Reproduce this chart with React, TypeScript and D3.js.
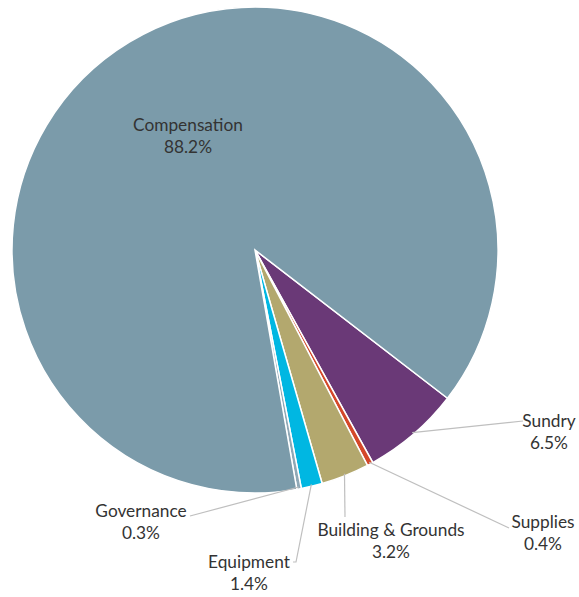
import React from "react";
import * as d3 from "d3";

const categories = ["Sundry", "Supplies", "Building & Grounds", "Equipment", "Governance", "Compensation"];
const values = [6.5, 0.4, 3.2, 1.4, 0.3, 88.2];
const valueLabels = ["6.5%", "0.4%", "3.2%", "1.4%", "0.3%", "88.2%"];
const colors = ["#6A3977", "#D4482A", "#B3A86E", "#00B7E2", "#8EA8B6", "#7B9BAA"];

// label layout (text center x, first baseline y, leader end points)
const labelLayout = [
  { x: 549, y: 427, leader: [[523, 421]] },
  { x: 543, y: 528, leader: [[509, 528]] },
  { x: 391, y: 536, leader: [[345, 517]] },
  { x: 249, y: 568, leader: [[296, 562], [293, 562]] },
  { x: 141, y: 517, leader: [[190, 516]] },
  { x: 188, y: 131, leader: [] },
];

const W = 579;
const H = 597;
const cx = 255;
const cy = 250;
const R = 243;
const startDeg = 127.6;

export default function App() {
  const pie = d3
    .pie<number>()
    .sort(null)
    .value((d) => d)
    .startAngle((startDeg * Math.PI) / 180)
    .endAngle(((startDeg + 360) * Math.PI) / 180);
  const arcs = pie(values);
  const arc = d3.arc<d3.PieArcDatum<number>>().innerRadius(0).outerRadius(R);
  const edge = d3.arc<d3.PieArcDatum<number>>().innerRadius(R - 2).outerRadius(R - 2);

  return (
    <div style={{ position: "absolute", left: 0, top: 0 }}>
      <svg width={W} height={H} style={{ display: "block" }} fontFamily="Lato, 'Open Sans', sans-serif">
        <rect width={W} height={H} fill="#ffffff" />
        <g transform={`translate(${cx},${cy})`}>
          {arcs.map((a, i) => (
            <path key={i} d={arc(a) || ""} fill={colors[i]} stroke="#ffffff" strokeWidth={1.5} />
          ))}
        </g>
        {arcs.map((a, i) => {
          const L = labelLayout[i];
          if (!L.leader.length) return null;
          const c = edge.centroid(a);
          const pts = [[c[0] + cx, c[1] + cy], ...L.leader];
          const line = d3.line()(pts as [number, number][]);
          return <path key={"l" + i} d={line || ""} fill="none" stroke="#BFBFBF" strokeWidth={1.2} />;
        })}
        {arcs.map((a, i) => {
          const L = labelLayout[i];
          return (
            <text key={"t" + i} textAnchor="middle" fontSize={17.3} fill="#333333">
              <tspan x={L.x} y={L.y}>{categories[i]}</tspan>
              <tspan x={L.x} y={L.y + 22}>{valueLabels[i]}</tspan>
            </text>
          );
        })}
      </svg>
    </div>
  );
}
